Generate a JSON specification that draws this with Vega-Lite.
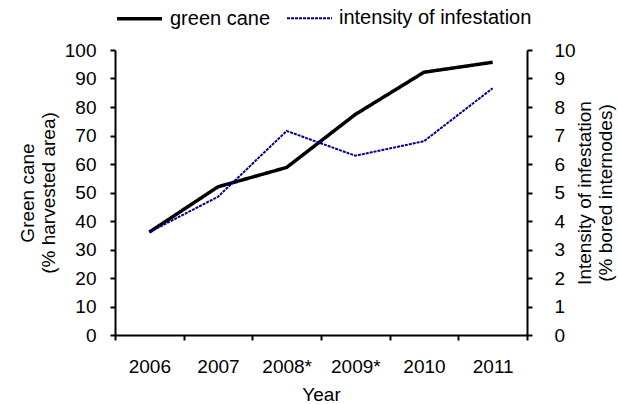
{
  "$schema": "https://vega.github.io/schema/vega-lite/v6.json",
  "width": 412,
  "height": 285,
  "autosize": {"type": "none"},
  "padding": {"left": 115, "top": 50, "right": 91, "bottom": 69},
  "config": {
    "view": {"stroke": null},
    "font": "Liberation Sans",
    "axis": {
      "labelFont": "Liberation Sans",
      "titleFont": "Liberation Sans",
      "labelFontSize": 19,
      "titleFontSize": 19,
      "titleFontWeight": "normal",
      "labelColor": "black",
      "titleColor": "black",
      "domainColor": "black",
      "domainWidth": 2,
      "tickColor": "black",
      "tickWidth": 2,
      "tickSize": 5,
      "grid": false,
      "labelOverlap": false
    },
    "legend": {
      "labelFont": "Liberation Sans",
      "labelFontSize": 20,
      "labelColor": "black",
      "labelLimit": 400,
      "padding": 0
    }
  },
  "data": {
    "values": [
      {"year": "2006", "series": "green cane", "value": 36.1},
      {"year": "2007", "series": "green cane", "value": 52},
      {"year": "2008*", "series": "green cane", "value": 58.8},
      {"year": "2009*", "series": "green cane", "value": 77.4},
      {"year": "2010", "series": "green cane", "value": 92.2},
      {"year": "2011", "series": "green cane", "value": 95.7},
      {"year": "2006", "series": "intensity of infestation", "value": 3.61},
      {"year": "2007", "series": "intensity of infestation", "value": 4.85},
      {"year": "2008*", "series": "intensity of infestation", "value": 7.16},
      {"year": "2009*", "series": "intensity of infestation", "value": 6.29},
      {"year": "2010", "series": "intensity of infestation", "value": 6.8},
      {"year": "2011", "series": "intensity of infestation", "value": 8.66}
    ]
  },
  "encoding": {
    "x": {
      "field": "year",
      "type": "ordinal",
      "sort": null,
      "scale": {"paddingInner": 0, "paddingOuter": 0},
      "axis": {"title": "Year", "labelAngle": 0, "tickBand": "extent", "labelPadding": 17, "titlePadding": 9}
    },
    "color": {
      "field": "series",
      "type": "nominal",
      "scale": {"domain": ["green cane", "intensity of infestation"], "range": ["black", "#00008B"]},
      "legend": {
        "title": null,
        "orient": "none",
        "legendX": 0,
        "legendY": -56,
        "direction": "horizontal",
        "symbolType": "stroke",
        "symbolSize": 2025,
        "columnPadding": 12,
        "labelOffset": 6
      }
    },
    "strokeDash": {
      "field": "series",
      "type": "nominal",
      "scale": {"domain": ["green cane", "intensity of infestation"], "range": [[1, 0], [3, 1]]},
      "legend": null
    },
    "strokeWidth": {
      "field": "series",
      "type": "nominal",
      "scale": {"domain": ["green cane", "intensity of infestation"], "range": [3.5, 2]},
      "legend": null
    }
  },
  "layer": [
    {
      "transform": [{"filter": "datum.series === 'green cane'"}],
      "mark": {"type": "line"},
      "encoding": {
        "y": {
          "field": "value",
          "type": "quantitative",
          "scale": {"domain": [0, 100], "nice": false},
          "axis": {"title": ["Green cane", "(% harvested area)"], "values": [0, 10, 20, 30, 40, 50, 60, 70, 80, 90, 100], "labelPadding": 14, "titlePadding": 6}
        }
      }
    },
    {
      "transform": [{"filter": "datum.series === 'intensity of infestation'"}],
      "mark": {"type": "line"},
      "encoding": {
        "y": {
          "field": "value",
          "type": "quantitative",
          "scale": {"domain": [0, 10], "nice": false},
          "axis": {"orient": "right", "title": ["Intensity of infestation", "(% bored internodes)"], "titleAngle": 270, "values": [0, 1, 2, 3, 4, 5, 6, 7, 8, 9, 10], "labelPadding": 22, "titlePadding": -2}
        }
      }
    }
  ],
  "resolve": {"scale": {"y": "independent"}}
}
